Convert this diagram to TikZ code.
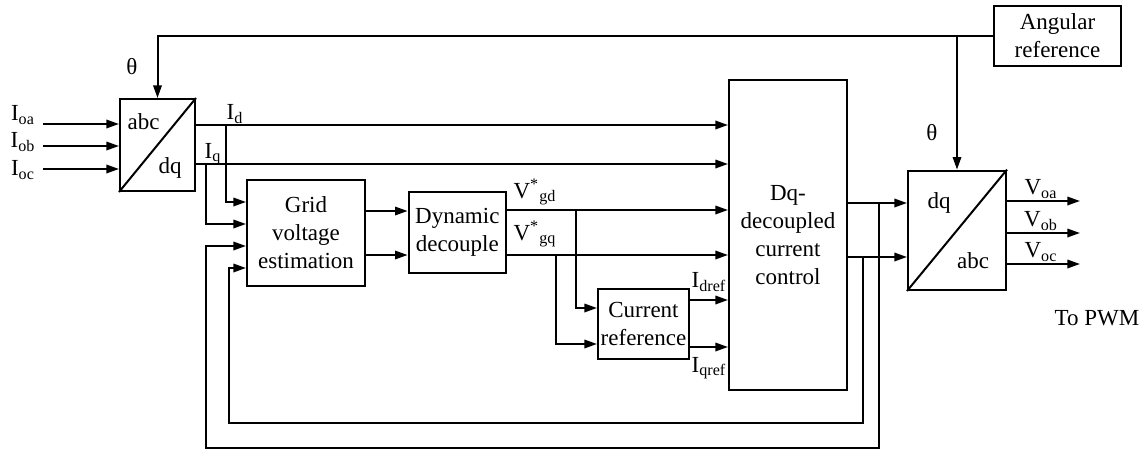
\documentclass[tikz,border=0pt]{standalone}
\usepackage{fontspec}
\setmainfont{Liberation Serif}
\usetikzlibrary{arrows.meta,positioning,calc}
\tikzset{
  block/.style={draw,line width=1pt,inner sep=1pt,align=center,
    font=\fontsize{11.5}{14}\selectfont},
  flow/.style={-{Triangle[length=6.3pt,width=4.2pt]},line width=1pt},
  wire/.style={line width=1pt},
  note/.style={inner sep=0pt,font=\fontsize{11.5}{14}\selectfont}
}

\begin{document}
\begin{tikzpicture}[x=0.5pt,y=-0.5pt]
  \useasboundingbox (0,0) rectangle (1147,450);
  % blocks
  \node[block,minimum width=37.5pt,minimum height=46pt] (park) at (157.5,145) {};
  \node[block,minimum width=59pt,minimum height=53.25pt] (grid) at (306,232.75) {Grid\\voltage\\estimation};
  \node[block,minimum width=48.7pt,minimum height=40.5pt] (dyn) at (457.3,232.8) {Dynamic\\decouple};
  \node[block,minimum width=45.5pt,minimum height=35.3pt] (curref) at (643.5,324) {Current\\reference};
  \node[block,minimum width=59pt,minimum height=155pt] (dqctrl) at (788,235) {Dq-\\decoupled\\current\\control};
  \node[block,minimum width=49pt,minimum height=59.7pt] (invpark) at (957,230.3) {};
  \node[block,minimum width=63.5pt,minimum height=30pt] (angref) at (1057.5,36) {Angular\\reference};
  \draw[wire] (park.south west) -- (park.north east);
  \draw[wire] (invpark.south west) -- (invpark.north east);
  \node[note] (abcin) at (143.5,122) {abc};
  \node[note] (dqin) at (170,168) {dq};
  \node[note] (dqout) at (939,203) {dq};
  \node[note] (abcout) at (973,261) {abc};
  % angle
  \draw[flow] (angref.west) -| (park.north);
  \draw[flow] (angref.west -| invpark.north) -- (invpark.north);
  \node[note] (thin) at (132,67) {θ};
  \node[note] (thout) at (932,133) {θ};
  % measured currents
  \coordinate (ina) at (43,124);
  \coordinate (inb) at (43,146);
  \coordinate (inc) at (43,169);
  \node[note] (ioa) at (23,115) {I\textsubscript{oa}};
  \node[note] (iob) at (23,142) {I\textsubscript{ob}};
  \node[note] (ioc) at (23,170) {I\textsubscript{oc}};
  \draw[flow] (ina) -- (park.west |- ina);
  \draw[flow] (inb) -- (park.west |- inb);
  \draw[flow] (inc) -- (park.west |- inc);
  % dq currents
  \coordinate (yd) at (0,125);
  \coordinate (yq) at (0,164);
  \draw[flow] (park.east |- yd) -- (dqctrl.west |- yd);
  \draw[flow] (park.east |- yq) -- (dqctrl.west |- yq);
  \node[note] (idl) at (235,114) {I\textsubscript{d}};
  \node[note] (iql) at (213,154) {I\textsubscript{q}};
  \draw[flow] (226,125) |- (grid.west |- 0,202);
  \draw[flow] (206,164) |- (grid.west |- 0,224);
  % estimation and decoupling
  \draw[flow] (grid.east |- 0,211) -- (dyn.west |- 0,211);
  \draw[flow] (grid.east |- 0,255) -- (dyn.west |- 0,255);
  \draw[flow] (dyn.east |- 0,210) -- (dqctrl.west |- 0,210);
  \draw[flow] (dyn.east |- 0,255) -- (dqctrl.west |- 0,255);
  \node[note] (vgd) at (535,192) {V\textsuperscript{*}\textsubscript{gd}};
  \node[note] (vgq) at (535,234) {V\textsuperscript{*}\textsubscript{gq}};
  \draw[flow] (576,210) |- (curref.west |- 0,308);
  \draw[flow] (556,255) |- (curref.west |- 0,344);
  % current references
  \draw[flow] (curref.east |- 0,300) -- (dqctrl.west |- 0,300);
  \draw[flow] (curref.east |- 0,347) -- (dqctrl.west |- 0,347);
  \node[note] (idref) at (709,282) {I\textsubscript{dref}};
  \node[note] (iqref) at (709,368) {I\textsubscript{qref}};
  % control outputs and feedback
  \draw[flow] (dqctrl.east |- 0,203) -- (invpark.west |- 0,203);
  \draw[flow] (dqctrl.east |- 0,257) -- (invpark.west |- 0,257);
  \draw[flow] (863,257) -- (863,423) -| (229,423) |- (grid.west |- 0,268);
  \draw[flow] (879,203) -- (879,448) -| (206,448) |- (grid.west |- 0,246);
  % voltage outputs
  \coordinate (voa) at (1080,201);
  \coordinate (vob) at (1080,233);
  \coordinate (voc) at (1080,264);
  \draw[flow] (invpark.east |- voa) -- (voa);
  \draw[flow] (invpark.east |- vob) -- (vob);
  \draw[flow] (invpark.east |- voc) -- (voc);
  \node[note] (voal) at (1041,189) {V\textsubscript{oa}};
  \node[note] (vobl) at (1041,221) {V\textsubscript{ob}};
  \node[note] (vocl) at (1041,252) {V\textsubscript{oc}};
  \node[note] (pwm) at (1097,318) {To PWM};
\end{tikzpicture}
\end{document}
